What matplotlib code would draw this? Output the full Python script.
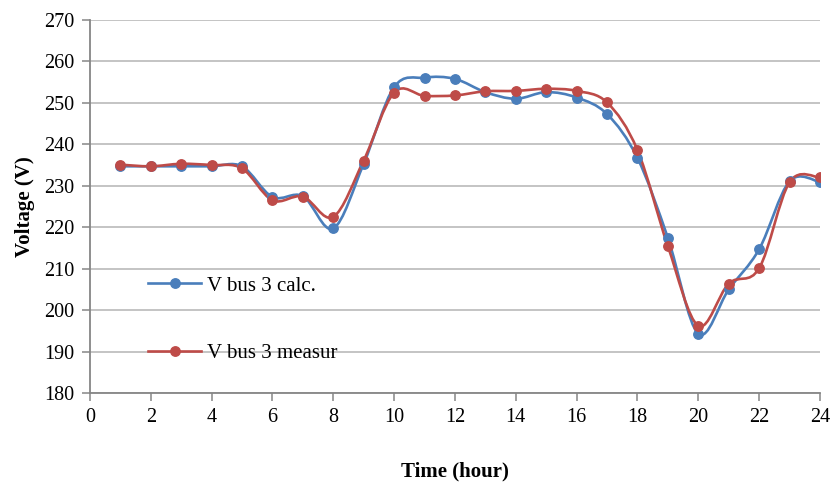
import numpy as np
import matplotlib
matplotlib.use("Agg")
import matplotlib.pyplot as plt
from matplotlib.path import Path
from matplotlib.patches import PathPatch
from matplotlib.lines import Line2D

hours = list(range(1, 25))
v_calc = [234.7, 234.7, 234.7, 234.7, 234.7, 227.3, 227.5, 219.7, 235.3, 253.8,
          256.1, 255.8, 252.6, 251.0, 252.6, 251.3, 247.3, 236.7, 217.4, 194.3,
          205.0, 214.7, 231.1, 230.9]
v_meas = [235.1, 234.7, 235.3, 235.0, 234.2, 226.5, 227.4, 222.5, 236.1, 252.5,
          251.7, 251.8, 252.8, 252.9, 253.4, 252.9, 250.1, 238.6, 215.4, 196.2,
          206.4, 210.1, 230.9, 232.0]

BLUE = "#4A7EBB"
RED = "#BE4B48"

plt.rcParams['font.family'] = ['Liberation Serif', 'DejaVu Serif']


def smooth_path(x, y, t=1/6.):
    # bezier segments through every point, like a spreadsheet "smoothed line"
    x = np.asarray(x, float)
    y = np.asarray(y, float)
    verts = [(x[0], y[0])]
    codes = [Path.MOVETO]
    n = len(x)
    for i in range(n - 1):
        i0 = max(i - 1, 0)
        i3 = min(i + 2, n - 1)
        c1 = (x[i] + t * (x[i + 1] - x[i0]), y[i] + t * (y[i + 1] - y[i0]))
        c2 = (x[i + 1] - t * (x[i3] - x[i]), y[i + 1] - t * (y[i3] - y[i]))
        verts += [c1, c2, (x[i + 1], y[i + 1])]
        codes += [Path.CURVE4] * 3
    return Path(verts, codes)


fig = plt.figure(figsize=(8.32, 4.86), dpi=100)
ax = fig.add_axes([0.108, 0.1914, 0.8776, 0.7674])

for vals, col in [(v_calc, BLUE), (v_meas, RED)]:
    ax.add_patch(PathPatch(smooth_path(hours, vals), facecolor="none",
                           edgecolor=col, lw=1.9, zorder=3))
    ax.plot(hours, vals, "o", color=col, ms=6.8, zorder=4)

ax.set_xlim(0, 24)
ax.set_ylim(180, 270)
ax.set_xticks(range(0, 25, 2))
ax.set_yticks(range(180, 271, 10))
ax.yaxis.grid(True, color="#BFBFBF", lw=1.3)
ax.set_axisbelow(True)

for s in ["top", "right"]:
    ax.spines[s].set_visible(False)
for s in ["left", "bottom"]:
    ax.spines[s].set_color("#868686")
    ax.spines[s].set_linewidth(1.3)
ax.tick_params(axis="both", colors="#868686", labelcolor="black",
               labelsize=14.5, length=5.5, width=1.1, direction="out")
ax.tick_params(axis="x", pad=5)
ax.tick_params(axis="y", pad=6)

ax.set_xlabel("Time (hour)", fontsize=15, fontweight="bold", labelpad=25)
ax.set_ylabel("Voltage (V)", fontsize=15, fontweight="bold", labelpad=6)

handles = [Line2D([], [], color=BLUE, lw=1.9, marker="o", ms=6.8),
           Line2D([], [], color=RED, lw=1.9, marker="o", ms=6.8)]
ax.legend(handles, ["V bus 3 calc.", "V bus 3 measur"], loc="upper left",
          bbox_to_anchor=(0.054, 0.364), frameon=False, fontsize=15,
          labelspacing=2.3, handlelength=2.55, handletextpad=0.3)

fig.savefig("out.png", dpi=100)
